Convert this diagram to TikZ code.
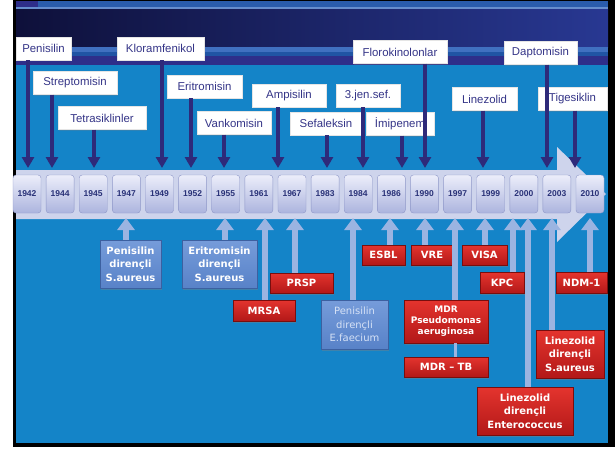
\documentclass[tikz,border=0pt]{standalone}
\usepackage{fontspec}
\newfontfamily\lblfont{Liberation Sans}
\newfontfamily\boxfont{DejaVu Sans}
\usetikzlibrary{arrows.meta,shadows}
\definecolor{slideblue}{RGB}{20,132,200}
\definecolor{stripblue}{RGB}{42,92,172}
\definecolor{navyleft}{RGB}{14,16,58}
\definecolor{navyright}{RGB}{40,56,146}
\definecolor{stripeone}{RGB}{64,112,192}
\definecolor{stripetwo}{RGB}{32,84,164}
\definecolor{purpleband}{RGB}{46,46,138}
\definecolor{lbltext}{RGB}{52,52,135}
\definecolor{navyarr}{RGB}{46,42,122}
\definecolor{lightarr}{RGB}{155,180,225}
\definecolor{bandcol}{RGB}{206,212,236}
\definecolor{yeartop}{RGB}{236,238,250}
\definecolor{yearbot}{RGB}{172,180,222}
\definecolor{yearedge}{RGB}{142,151,200}
\definecolor{yeartext}{RGB}{42,50,120}
\definecolor{redtop}{RGB}{228,52,46}
\definecolor{redbot}{RGB}{178,24,24}
\definecolor{reddark}{RGB}{120,14,14}
\definecolor{bluetop}{RGB}{118,156,218}
\definecolor{bluebot}{RGB}{88,130,200}
\definecolor{bluedark}{RGB}{60,96,160}
\definecolor{efaetext}{RGB}{214,226,246}

\begin{document}
\begin{tikzpicture}[x=1pt,y=-1pt,
    toplbl/.style={fill=white, draw=black!10, inner sep=0pt, minimum height=23pt,
      text=lbltext, font=\lblfont\fontsize{11.4}{13}\selectfont,
      drop shadow={shadow xshift=1pt, shadow yshift=-1.2pt, opacity=0.25}},
    yearbox/.style={rounded corners=3pt, draw=yearedge, top color=yeartop, bottom color=yearbot,
      minimum width=28pt, minimum height=38pt, inner sep=0pt, text=yeartext,
      font=\lblfont\bfseries\fontsize{8.5}{9}\selectfont},
    redbox/.style={draw=reddark, top color=redtop, bottom color=redbot, text=white,
      inner sep=0pt, minimum height=20pt, align=center,
      font=\boxfont\bfseries\fontsize{10}{13.3}\selectfont,
      drop shadow={shadow xshift=1pt, shadow yshift=-1.5pt, opacity=0.4}},
    bluebox/.style={redbox, draw=bluedark, top color=bluetop, bottom color=bluebot},
    downarr/.style={draw=navyarr, line width=4.6pt, -{Triangle[width=12pt,length=11pt]}},
    uparr/.style={draw=lightarr, line width=5.5pt, -{Triangle[width=17pt,length=12pt]}}]
    \useasboundingbox (0,0) rectangle (616,450);
    % slide frame and header
    \fill[white] (0,0) rectangle (616,450);
    \fill[black] (13,0) rectangle (615,447);
    \fill[slideblue] (16,65) rectangle (608,443);
    \fill[stripblue] (16,1) rectangle (608,7);
    \fill[purpleband] (16,1) rectangle (38,7);
    \fill[stripeone!80!white] (16,7) rectangle (608,9);
    \shade[left color=navyleft, right color=navyright] (16,9) rectangle (608,47);
    \fill[stripeone] (16,47) rectangle (608,52);
    \fill[stripetwo] (16,52) rectangle (608,56);
    \fill[purpleband] (16,56) rectangle (608,65);
    % timeline band
    \fill[bandcol] (16,170) -- (557,170) -- (557,147) -- (606,194) -- (557,242) -- (557,219) -- (16,219) -- cycle;

    % drugs
    \node[toplbl, minimum width=55pt] (penisilin) at (43.5,48.5) {Penisilin};
    \node[toplbl, minimum width=84pt] (strepto) at (75,83) {Streptomisin};
    \node[toplbl, minimum width=88pt] (tetra) at (102,118) {Tetrasiklinler};
    \node[toplbl, minimum width=87pt] (kloram) at (160.5,48.5) {Kloramfenikol};
    \node[toplbl, minimum width=75pt] (eritro) at (204.5,86.5) {Eritromisin};
    \node[toplbl, minimum width=74pt] (vanko) at (234,123) {Vankomisin};
    \node[toplbl, minimum width=74pt] (ampi) at (289,95.5) {Ampisilin};
    \node[toplbl, minimum width=72pt] (sefal) at (326,123.5) {Sefaleksin};
    \node[toplbl, minimum width=64pt] (jensef) at (368,95.5) {3.jen.sef.};
    \node[toplbl, minimum width=68pt] (imipen) at (400,124) {İmipenem};
    \node[toplbl, minimum width=94pt] (floro) at (400,52) {Florokinolonlar};
    \node[toplbl, minimum width=65pt] (linez) at (484.5,99) {Linezolid};
    \node[toplbl, minimum width=73pt] (dapto) at (540.5,53) {Daptomisin};
    \node[toplbl, minimum width=69pt] (tiges) at (572.5,99) {Tigesiklin};

    \coordinate (penisilin-tip) at (28,168);
    \coordinate (strepto-tip) at (52,168);
    \coordinate (tetra-tip) at (94,168);
    \coordinate (kloram-tip) at (162,168);
    \coordinate (eritro-tip) at (191,168);
    \coordinate (vanko-tip) at (224,168);
    \coordinate (ampi-tip) at (278,168);
    \coordinate (sefal-tip) at (327,168);
    \coordinate (jensef-tip) at (363,168);
    \coordinate (imipen-tip) at (402,168);
    \coordinate (floro-tip) at (425,168);
    \coordinate (linez-tip) at (483,168);
    \coordinate (dapto-tip) at (547,168);
    \coordinate (tiges-tip) at (575,168);
    \draw[downarr] (penisilin.south -| penisilin-tip) -- (penisilin-tip);
    \draw[downarr] (strepto.south -| strepto-tip) -- (strepto-tip);
    \draw[downarr] (tetra.south -| tetra-tip) -- (tetra-tip);
    \draw[downarr] (kloram.south -| kloram-tip) -- (kloram-tip);
    \draw[downarr] (eritro.south -| eritro-tip) -- (eritro-tip);
    \draw[downarr] (vanko.south -| vanko-tip) -- (vanko-tip);
    \draw[downarr] (ampi.south -| ampi-tip) -- (ampi-tip);
    \draw[downarr] (sefal.south -| sefal-tip) -- (sefal-tip);
    \draw[downarr] (jensef.south -| jensef-tip) -- (jensef-tip);
    \draw[downarr] (imipen.south -| imipen-tip) -- (imipen-tip);
    \draw[downarr] (floro.south -| floro-tip) -- (floro-tip);
    \draw[downarr] (linez.south -| linez-tip) -- (linez-tip);
    \draw[downarr] (dapto.south -| dapto-tip) -- (dapto-tip);
    \draw[downarr] (tiges.south -| tiges-tip) -- (tiges-tip);

    % years
    \node[yearbox] (y1942) at (27,194) {1942};
    \node[yearbox] (y1944) at (60.1,194) {1944};
    \node[yearbox] (y1945) at (93.2,194) {1945};
    \node[yearbox] (y1947) at (126.4,194) {1947};
    \node[yearbox] (y1949) at (159.5,194) {1949};
    \node[yearbox] (y1952) at (192.6,194) {1952};
    \node[yearbox] (y1955) at (225.7,194) {1955};
    \node[yearbox] (y1961) at (258.8,194) {1961};
    \node[yearbox] (y1967) at (292,194) {1967};
    \node[yearbox] (y1983) at (325.1,194) {1983};
    \node[yearbox] (y1984) at (358.2,194) {1984};
    \node[yearbox] (y1986) at (391.3,194) {1986};
    \node[yearbox] (y1990) at (424.4,194) {1990};
    \node[yearbox] (y1997) at (457.6,194) {1997};
    \node[yearbox] (y1999) at (490.7,194) {1999};
    \node[yearbox] (y2000) at (523.8,194) {2000};
    \node[yearbox] (y2003) at (556.9,194) {2003};
    \node[yearbox] (y2010) at (590,194) {2010};

    % resistance
    \node[bluebox, minimum width=61pt, minimum height=48pt] (pdsa) at (130.5,264) {Penisilin\\dirençli\\S.aureus};
    \node[bluebox, minimum width=75pt, minimum height=48pt] (edsa) at (219.5,264) {Eritromisin\\dirençli\\S.aureus};
    \node[redbox, minimum width=62pt, minimum height=21pt] (mrsa) at (264,310.5) {MRSA};
    \node[redbox, minimum width=63pt] (prsp) at (301.5,283) {PRSP};
    \node[bluebox, minimum width=67pt, minimum height=49pt, text=efaetext,
      font=\boxfont\fontsize{10}{13.3}\selectfont] (pdef) at (354.5,324.5) {Penisilin\\dirençli\\E.faecium};
    \node[redbox, minimum width=43pt] (esbl) at (383.5,255) {ESBL};
    \node[redbox, minimum width=42pt] (vre) at (432,255) {VRE};
    \node[redbox, minimum width=45pt] (visa) at (484.5,255) {VISA};
    \node[redbox, minimum width=44pt, minimum height=21pt] (kpc) at (502,283) {KPC};
    \node[redbox, minimum width=51pt, minimum height=21pt] (ndm) at (581.5,283) {NDM-1};
    \node[redbox, minimum width=84pt, minimum height=43pt,
      font=\boxfont\bfseries\fontsize{9}{11}\selectfont] (mdrpa) at (446,321.5) {MDR\\Pseudomonas\\aeruginosa};
    \node[redbox, minimum width=84pt] (mdrtb) at (446,367) {MDR – TB};
    \node[redbox, minimum width=96pt, minimum height=48pt] (lze) at (525,411) {Linezolid\\dirençli\\Enterococcus};
    \node[redbox, minimum width=68pt, minimum height=48pt] (lzsa) at (570,354) {Linezolid\\dirençli\\S.aureus};

    \coordinate (pdsa-tip) at (126,218);
    \coordinate (edsa-tip) at (225,218);
    \coordinate (mrsa-tip) at (265,218);
    \coordinate (prsp-tip) at (295,218);
    \coordinate (pdef-tip) at (353,218);
    \coordinate (esbl-tip) at (390,218);
    \coordinate (vre-tip) at (425,218);
    \coordinate (mdrpa-tip) at (455,218);
    \coordinate (visa-tip) at (485,218);
    \coordinate (kpc-tip) at (513,218);
    \coordinate (lze-tip) at (528,218);
    \coordinate (lzsa-tip) at (552,218);
    \coordinate (ndm-tip) at (590,218);
    \draw[uparr] (pdsa.north -| pdsa-tip) -- (pdsa-tip);
    \draw[uparr] (edsa.north -| edsa-tip) -- (edsa-tip);
    \draw[uparr] (mrsa.north -| mrsa-tip) -- (mrsa-tip);
    \draw[uparr] (prsp.north -| prsp-tip) -- (prsp-tip);
    \draw[uparr] (pdef.north -| pdef-tip) -- (pdef-tip);
    \draw[uparr] (esbl.north -| esbl-tip) -- (esbl-tip);
    \draw[uparr] (vre.north -| vre-tip) -- (vre-tip);
    \draw[uparr] (mdrpa.north -| mdrpa-tip) -- (mdrpa-tip);
    \draw[uparr] (visa.north -| visa-tip) -- (visa-tip);
    \draw[uparr] (kpc.north -| kpc-tip) -- (kpc-tip);
    \draw[uparr] (lze.north -| lze-tip) -- (lze-tip);
    \draw[uparr] (lzsa.north -| lzsa-tip) -- (lzsa-tip);
    \draw[uparr] (ndm.north -| ndm-tip) -- (ndm-tip);
    \draw[lightarr, line width=3pt] (mdrtb.north -| mdrpa-tip) -- (mdrpa.south -| mdrpa-tip);
\end{tikzpicture}
\end{document}
